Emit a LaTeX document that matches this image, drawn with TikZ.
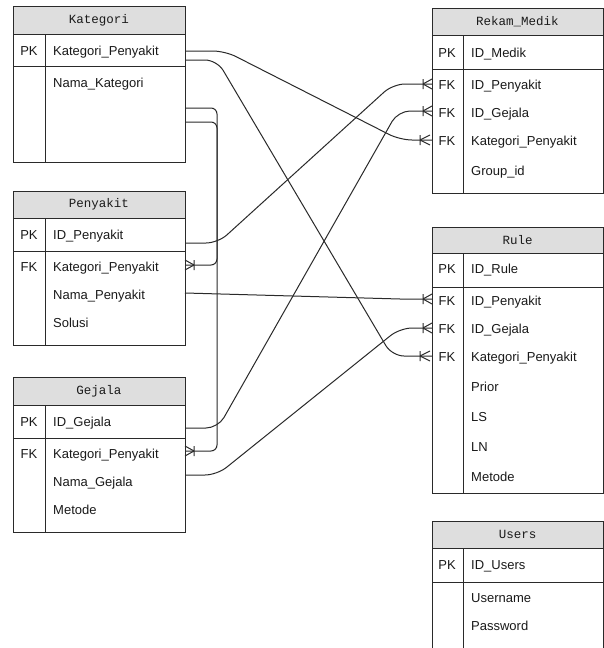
\documentclass[tikz,border=0pt]{standalone}
\usepackage{fontspec}
\setmainfont{Liberation Sans}
\newfontfamily\hdrfamily{Liberation Mono}
\definecolor{hdrgray}{HTML}{DEDEDE}
\definecolor{linec}{HTML}{2A2A2A}
\definecolor{txtc}{HTML}{1A1A1A}
\newcommand\crowfoot[2]{%
  \draw[conn,rounded corners=0pt] ($(#1)+(#2,0)$) -- ($(#1)+(0,-5)$)
     ($(#1)+(#2,0)$) -- ($(#1)+(0,5)$)
     ($(#1)+(#2,-5)$) -- ($(#1)+(#2,5)$);}
\usetikzlibrary{calc}
\begin{document}
\begin{tikzpicture}[x=1pt,y=-1pt,
  tblbox/.style={draw=linec, line width=1pt, anchor=north west, inner sep=0pt, outer sep=0pt, minimum width=#1},
  tblbox/.default=172pt,
  hdrbox/.style={draw=linec, fill=hdrgray, line width=1pt, anchor=north west, inner sep=0pt, outer sep=0pt, font=\hdrfamily\fontsize{12.5}{14}\selectfont, text=txtc},
  fld/.style={anchor=base west, inner sep=0pt, font=\fontsize{13}{15}\selectfont, text=txtc},
  key/.style={anchor=base, inner sep=0pt, font=\fontsize{13}{15}\selectfont, text=txtc},
  sep/.style={draw=linec, line width=1pt},
  conn/.style={draw=linec, line width=1pt, rounded corners=12pt},
  connsm/.style={draw=linec, line width=1pt, rounded corners=6pt}]
\useasboundingbox (0,0) rectangle (604,648);
\fill[white] (0,0) rectangle (604,648);

% ---------- Kategori ----------
\node[tblbox, minimum height=156pt] (kat) at (13,6) {};
\node[hdrbox, minimum width=172pt, minimum height=28pt] (kath) at (13,6) {Kategori};
\draw[sep] (13,66) -- (185,66);
\draw[sep] (45,34) -- (45,162);
\node[key] (katk1) at (29,55) {PK};
\node[fld] (katf1) at (53,55) {Kategori\_Penyakit};
\node[fld] (katf2) at (53,87) {Nama\_Kategori};

% ---------- Penyakit ----------
\node[tblbox, minimum height=154pt] (pen) at (13,191) {};
\node[hdrbox, minimum width=172pt, minimum height=27pt] (penh) at (13,191) {Penyakit};
\draw[sep] (13,251) -- (185,251);
\draw[sep] (45,218) -- (45,345);
\node[key] (penk1) at (29,239) {PK};
\node[key] (penk2) at (29,271) {FK};
\node[fld] (penf1) at (53,239) {ID\_Penyakit};
\node[fld] (penf2) at (53,271) {Kategori\_Penyakit};
\node[fld] (penf3) at (53,299) {Nama\_Penyakit};
\node[fld] (penf4) at (53,327) {Solusi};

% ---------- Gejala ----------
\node[tblbox, minimum height=155pt] (gej) at (13,377) {};
\node[hdrbox, minimum width=172pt, minimum height=28pt] (gejh) at (13,377) {Gejala};
\draw[sep] (13,438) -- (185,438);
\draw[sep] (45,405) -- (45,532);
\node[key] (gejk1) at (29,426) {PK};
\node[key] (gejk2) at (29,458) {FK};
\node[fld] (gejf1) at (53,426) {ID\_Gejala};
\node[fld] (gejf2) at (53,458) {Kategori\_Penyakit};
\node[fld] (gejf3) at (53,486) {Nama\_Gejala};
\node[fld] (gejf4) at (53,514) {Metode};

% ---------- Rekam_Medik ----------
\node[tblbox=171pt, minimum height=185pt] (rek) at (432,8) {};
\node[hdrbox, minimum width=171pt, minimum height=27pt] (rekh) at (432,8) {Rekam\_Medik};
\draw[sep] (432,69) -- (603,69);
\draw[sep] (463,35) -- (463,193);
\node[key] (rekk1) at (447,57) {PK};
\node[key] (rekk2) at (447,89) {FK};
\node[key] (rekk3) at (447,117) {FK};
\node[key] (rekk4) at (447,145) {FK};
\node[fld] (rekf1) at (471,57) {ID\_Medik};
\node[fld] (rekf2) at (471,89) {ID\_Penyakit};
\node[fld] (rekf3) at (471,117) {ID\_Gejala};
\node[fld] (rekf4) at (471,145) {Kategori\_Penyakit};
\node[fld] (rekf5) at (471,175) {Group\_id};

% ---------- Rule ----------
\node[tblbox=171pt, minimum height=266pt] (rul) at (432,227) {};
\node[hdrbox, minimum width=171pt, minimum height=26pt] (rulh) at (432,227) {Rule};
\draw[sep] (432,287) -- (603,287);
\draw[sep] (463,253) -- (463,493);
\node[key] (rulk1) at (447,273) {PK};
\node[key] (rulk2) at (447,305) {FK};
\node[key] (rulk3) at (447,333) {FK};
\node[key] (rulk4) at (447,361) {FK};
\node[fld] (rulf1) at (471,273) {ID\_Rule};
\node[fld] (rulf2) at (471,305) {ID\_Penyakit};
\node[fld] (rulf3) at (471,333) {ID\_Gejala};
\node[fld] (rulf4) at (471,361) {Kategori\_Penyakit};
\node[fld] (rulf5) at (471,391) {Prior};
\node[fld] (rulf6) at (471,421) {LS};
\node[fld] (rulf7) at (471,451) {LN};
\node[fld] (rulf8) at (471,481) {Metode};

% ---------- Users ----------
\node[tblbox=171pt, minimum height=140pt] (usr) at (432,521) {};
\node[hdrbox, minimum width=171pt, minimum height=27pt] (usrh) at (432,521) {Users};
\draw[sep] (432,582) -- (603,582);
\draw[sep] (463,548) -- (463,661);
\node[key] (usrk1) at (447,569) {PK};
\node[fld] (usrf1) at (471,569) {ID\_Users};
\node[fld] (usrf2) at (471,602) {Username};
\node[fld] (usrf3) at (471,630) {Password};

% ---------- connector end points ----------
\path (kat.north east) ++(0,45) coordinate (kA) ++(0,9) coordinate (kB) ++(0,48) coordinate (kC) ++(0,14) coordinate (kD);
\path (pen.north east) ++(0,52) coordinate (pA) ++(0,22) coordinate (pB) ++(0,28) coordinate (pC);
\path (gej.north east) ++(0,51) coordinate (gA) ++(0,23) coordinate (gB) ++(0,24) coordinate (gC);
\path (rek.north west) ++(0,76) coordinate (rA) ++(0,27) coordinate (rB) ++(0,29) coordinate (rC);
\path (rul.north west) ++(0,72) coordinate (uA) ++(0,29) coordinate (uB) ++(0,28) coordinate (uC);

% ---------- connectors ----------
\draw[conn] (kA) -- (225,51) -- (400,140) -- (rC);
\draw[conn] (kB) -- (217,60) -- (392,356) -- (uC);
\draw[connsm] (kC) -- (217,108) -- (217,265) -- (pB);
\draw[connsm] (kD) -- (217,122) -- (217,451) -- (gB);
\draw[conn] (pA) -- (218,243) -- (393,84) -- (rA);
\draw[conn,rounded corners=0pt] (pC) -- (400,299) -- (uA);
\draw[conn] (gA) -- (218,428) -- (398,111) -- (rB);
\draw[conn] (gC) -- (217,475) -- (400,328) -- (uB);

% ---------- crow's feet ----------
\crowfoot{rA}{-9}
\crowfoot{rB}{-9}
\crowfoot{$(rC)+(-2,0)$}{-10}
\crowfoot{uA}{-9}
\crowfoot{uB}{-9}
\crowfoot{$(uC)+(-2,0)$}{-10}
\crowfoot{pB}{9}
\crowfoot{gB}{9}
\end{tikzpicture}
\end{document}
